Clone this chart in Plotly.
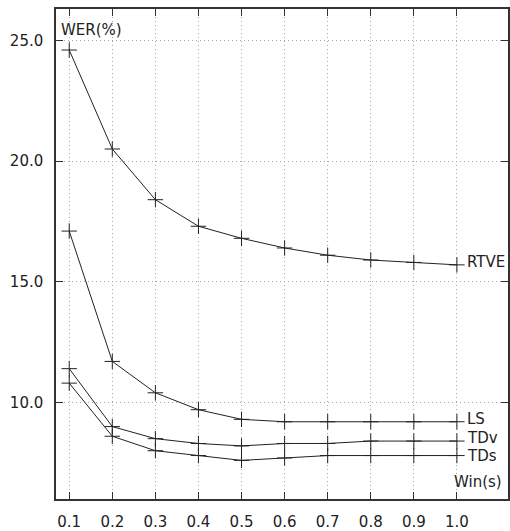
import plotly.graph_objects as go

# Window length (s) and word error rate (%) for each test set
win = [0.1, 0.2, 0.3, 0.4, 0.5, 0.6, 0.7, 0.8, 0.9, 1.0]
wer_rtve = [24.6, 20.5, 18.4, 17.3, 16.8, 16.4, 16.1, 15.9, 15.8, 15.7]
wer_ls = [17.1, 11.7, 10.4, 9.7, 9.3, 9.2, 9.2, 9.2, 9.2, 9.2]
wer_tdv = [11.4, 9.0, 8.5, 8.3, 8.2, 8.3, 8.3, 8.4, 8.4, 8.4]
wer_tds = [10.8, 8.6, 8.0, 7.8, 7.6, 7.7, 7.8, 7.8, 7.8, 7.8]

series = [("RTVE", wer_rtve), ("LS", wer_ls), ("TDv", wer_tdv), ("TDs", wer_tds)]
# small vertical nudges so the two close end labels stay apart
label_shift = {"RTVE": 3, "LS": 3, "TDv": 4, "TDs": 0}

x_ticks = [0.1, 0.2, 0.3, 0.4, 0.5, 0.6, 0.7, 0.8, 0.9, 1.0]
x_labels = ["0.1", "0.2", "0.3", "0.4", "0.5", "0.6", "0.7", "0.8", "0.9", "1.0"]
y_ticks = [10, 15, 20, 25]
y_labels = ["10.0", "15.0", "20.0", "25.0"]

INK = "#222222"
FONT = dict(family="DejaVu Sans", size=15, color=INK)

fig = go.Figure()
for name, vals in series:
    fig.add_trace(go.Scatter(
        x=win, y=vals, mode="lines+markers", name=name,
        line=dict(color=INK, width=1),
        marker=dict(symbol="cross-thin-open", size=11,
                    line=dict(color=INK, width=1)),
        showlegend=False,
    ))
    # series name placed just right of its last point
    fig.add_annotation(x=win[-1], y=vals[-1], text=name, showarrow=False,
                       xanchor="left", yanchor="middle", xshift=8,
                       yshift=label_shift[name], height=13, font=FONT)

fig.add_annotation(x=0, y=1, xref="paper", yref="paper", text="WER(%)",
                   showarrow=False, xanchor="left", yanchor="top",
                   xshift=3, yshift=-10, font=FONT)
fig.add_annotation(x=1, y=6.7, xref="paper", yref="y", text="Win(s)",
                   showarrow=False, xanchor="right", yanchor="middle",
                   xshift=-4, font=FONT)

axis_common = dict(
    showline=True, linecolor="#333333", linewidth=1.5, mirror="ticks",
    ticks="inside", ticklen=7, tickcolor="#333333", tickwidth=1,
    showgrid=True, gridcolor="#a8a8a8", griddash="1px,3px", gridwidth=1,
    zeroline=False, tickfont=FONT,
)

fig.update_xaxes(range=[0.0693, 1.1186], tickvals=x_ticks, ticktext=x_labels,
                 ticklabelstandoff=8, **axis_common)
fig.update_yaxes(range=[6.0, 26.3], tickvals=y_ticks, ticktext=y_labels,
                 ticklabelstandoff=8, **axis_common)

fig.update_layout(
    width=510, height=531,
    margin=dict(l=56, r=0, t=9, b=28),
    paper_bgcolor="white", plot_bgcolor="white",
    font=FONT,
)

fig.write_html("out.html")
